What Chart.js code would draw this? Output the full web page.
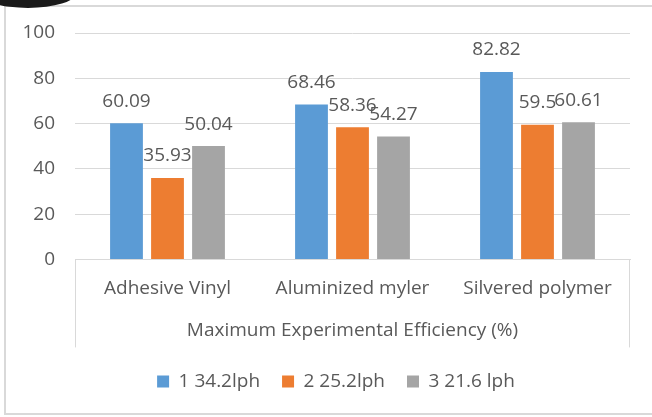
<!DOCTYPE html>
<html lang="en">

<head>
  <meta charset="UTF-8">
  <title>Maximum Experimental Efficiency</title>
  <script src="https://cdn.jsdelivr.net/npm/chart.js"></script>
  <style>
    html, body { margin: 0; padding: 0; background: #fff; }
    #wrap { position: relative; width: 652px; height: 417px; overflow: hidden; }
    #frame {
      position: absolute; left: 4px; top: 5px; width: 670px; height: 406px;
      border: 2.5px solid #d9d9d9; pointer-events: none;
    }
    #blob {
      position: absolute; left: -20px; top: -22px; width: 96px; height: 30px;
      border-radius: 50%; background: #1a1a1a; pointer-events: none;
    }
  </style>
</head>

<body>
  <div id="wrap">
    <canvas id="grafico" width="652" height="417"></canvas>
    <div id="frame"></div>
    <div id="blob"></div>
  </div>
  <script>
    // dados
    const categorias = ['Adhesive Vinyl', 'Aluminized myler', 'Silvered polymer'];
    const serie1 = [60.09, 68.46, 82.82];
    const serie2 = [35.93, 58.36, 59.5];
    const serie3 = [50.04, 54.27, 60.61];
    const nomes = ['1 34.2lph', '2 25.2lph', '3 21.6 lph'];
    const cores = ['#5b9bd5', '#ed7d31', '#a5a5a5'];
    const tituloX = 'Maximum Experimental Efficiency (%)';

    const fonte = '"Open Sans", "Noto Sans", sans-serif';
    const cinzaTexto = '#595959';

    // rótulos em cima das barras
    const rotulos = {
      id: 'rotulos',
      afterDatasetsDraw(chart) {
        const ctx = chart.ctx;
        ctx.save();
        ctx.font = '19px ' + fonte;
        ctx.fillStyle = cinzaTexto;
        ctx.textAlign = 'center';
        ctx.textBaseline = 'middle';
        chart.data.datasets.forEach((ds, i) => {
          chart.getDatasetMeta(i).data.forEach((bar, j) => {
            ctx.fillText(String(ds.data[j]), bar.x, bar.y - 22);
          });
        });
        ctx.restore();
      }
    };

    // caixa do eixo de categorias (linhas verticais nas pontas)
    const caixa = {
      id: 'caixa',
      afterLayout(chart) {
        // legenda um pouco mais à direita, como no original
        chart.legend.left += 21;
        chart.legend.right += 21;
      },
      afterDraw(chart) {
        const a = chart.chartArea;
        const ctx = chart.ctx;
        ctx.save();
        ctx.strokeStyle = '#d9d9d9';
        ctx.lineWidth = 1;
        ctx.beginPath();
        ctx.moveTo(a.left + 0.5, a.bottom);
        ctx.lineTo(a.left + 0.5, a.bottom + 88);
        ctx.moveTo(a.right - 0.5, a.bottom);
        ctx.lineTo(a.right - 0.5, a.bottom + 88);
        ctx.stroke();
        ctx.restore();
      }
    };

    const ctx = document.getElementById('grafico').getContext('2d');
    const grafico = new Chart(ctx, {
      type: 'bar',
      data: {
        labels: categorias,
        datasets: [
          { label: nomes[0], data: serie1, backgroundColor: cores[0] },
          { label: nomes[1], data: serie2, backgroundColor: cores[1] },
          { label: nomes[2], data: serie3, backgroundColor: cores[2] }
        ]
      },
      options: {
        responsive: false,
        animation: false,
        categoryPercentage: 0.665,
        barPercentage: 0.8,
        layout: { padding: { left: 0, right: 22, top: 33, bottom: 16 } },
        scales: {
          x: {
            grid: { display: false },
            border: { display: true, color: '#d9d9d9' },
            ticks: { color: cinzaTexto, font: { family: fonte, size: 19 }, padding: 10 },
            title: {
              display: true, text: tituloX, color: cinzaTexto,
              font: { family: fonte, size: 19 }, padding: { top: 9, bottom: 8 }
            }
          },
          y: {
            min: 0, max: 100,
            ticks: { stepSize: 20, color: cinzaTexto, font: { family: fonte, size: 19 }, padding: 20 },
            grid: { color: '#d9d9d9', drawTicks: false },
            border: { display: false },
            afterFit(scale) { scale.width = 75; }
          }
        },
        plugins: {
          legend: {
            position: 'bottom',
            labels: {
              color: cinzaTexto, font: { family: fonte, size: 19 },
              boxWidth: 12, boxHeight: 12, padding: 22
            }
          },
          tooltip: { enabled: false }
        }
      },
      plugins: [rotulos, caixa]
    });
  </script>
</body>

</html>
